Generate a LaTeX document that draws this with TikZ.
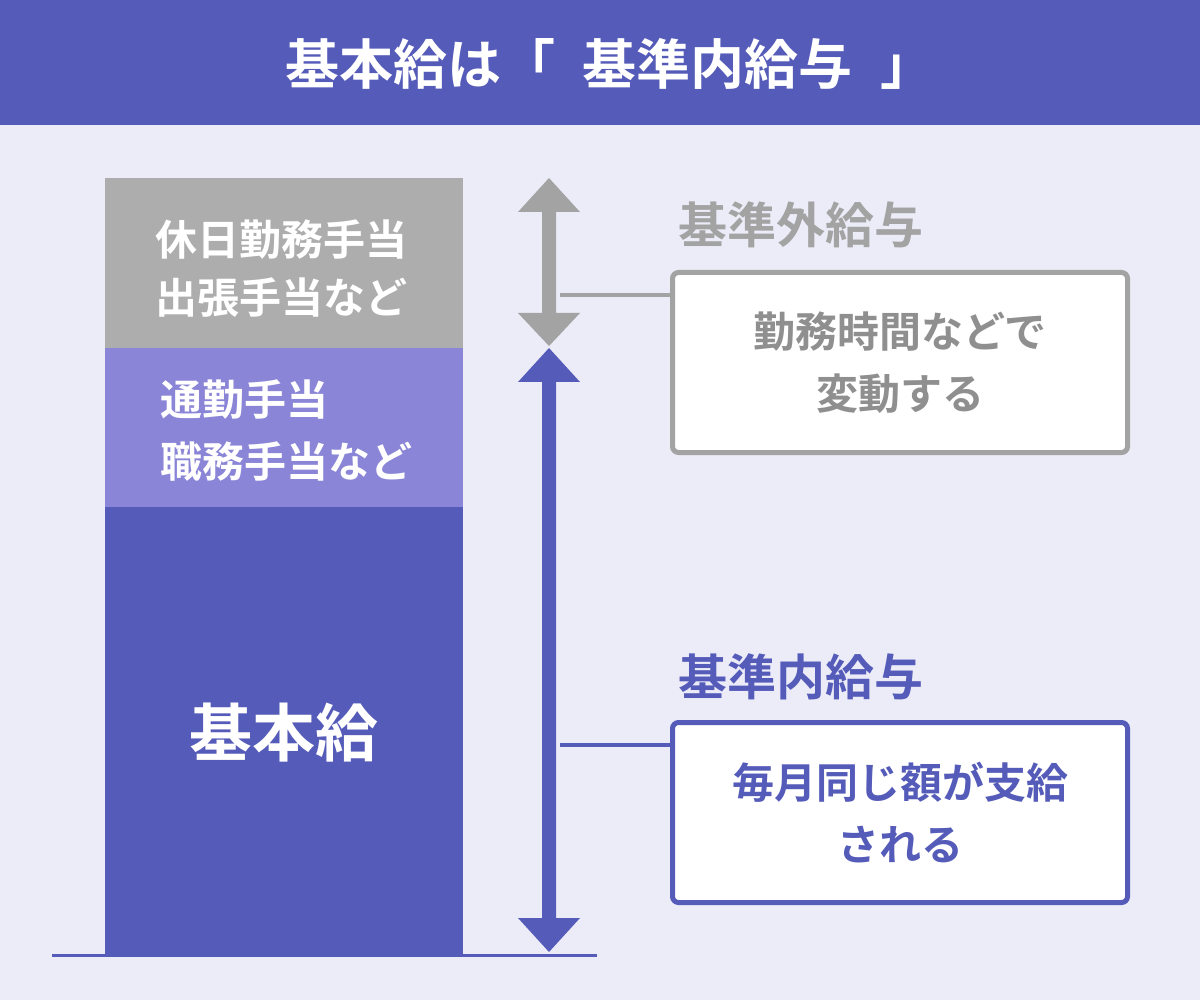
\documentclass[tikz,border=0pt]{standalone}
\usepackage{fontspec}
\setmainfont{Noto Sans CJK JP}[BoldFont={Noto Sans CJK JP Bold}]
\definecolor{hdr}{HTML}{555BB8}
\definecolor{bg}{HTML}{ECECF8}
\definecolor{gr}{HTML}{ADADAD}
\definecolor{lp}{HTML}{8A85D6}
\definecolor{gtxt}{HTML}{8F8F8F}
\definecolor{gline}{HTML}{A3A3A3}
\tikzset{
  lbl/.style={font=\bfseries\fontsize{42}{46}\selectfont, inner sep=0pt},
  head/.style={font=\bfseries\fontsize{49}{52}\selectfont, anchor=west, inner sep=0pt},
  box/.style={draw, line width=5pt, rounded corners=6pt, fill=white, inner sep=0pt},
}
\begin{document}
\begin{tikzpicture}[x=1pt,y=-1pt]
\useasboundingbox (0,0) rectangle (1200,1000);
\fill[bg] (0,0) rectangle (1200,1000);
\fill[hdr] (0,0) rectangle (1200,125);
\node[text=white, font=\bfseries\fontsize{54}{58}\selectfont] (title) at (610,64) {基本給は「\hspace{28pt}基準内給与\hspace{28pt}」};
% column
\fill[gr] (105,178) rectangle (463,348);
\fill[lp] (105,348) rectangle (463,507);
\fill[hdr] (105,507) rectangle (463,955);
\draw[hdr, line width=3pt] (52,955) -- (597,955);
\node[lbl, text=white, anchor=west] (t1) at (155,240) {休日勤務手当};
\node[lbl, text=white, anchor=west] (t2) at (155,298) {出張手当など};
\node[lbl, text=white, anchor=west] (t3) at (160,400) {通勤手当};
\node[lbl, text=white, anchor=west] (t4) at (160,462) {職務手当など};
\node[text=white, font=\bfseries\fontsize{63}{66}\selectfont] (kk) at (284,733) {基本給};
% arrows
\fill[gline] (549,178) -- (580,212) -- (556,212) -- (556,313) -- (580,313) -- (549,346) -- (518,313) -- (542,313) -- (542,212) -- (518,212) -- cycle;
\fill[hdr] (549,348) -- (580,382) -- (556,382) -- (556,918) -- (580,918) -- (549,952) -- (518,918) -- (542,918) -- (542,382) -- (518,382) -- cycle;
% boxes
\node[head, text=gline] (gl) at (678,225) {基準外給与};
\node[box, draw=gline, minimum width=455pt, minimum height=180pt, anchor=north west] (gb) at (670,270) {};
\node[lbl, text=gtxt, align=center] at (gb.center) {勤務時間などで\\[16pt]変動する};
\node[head, text=hdr] (bl) at (678,677) {基準内給与};
\node[box, draw=hdr, minimum width=455pt, minimum height=180pt, anchor=north west] (bb) at (670,720) {};
\node[lbl, text=hdr, align=center] at (bb.center) {毎月同じ額が支給\\[16pt]される};
\coordinate (ga) at (560,295);
\coordinate (ba) at (560,745);
\draw[gline, line width=3.5pt] (ga) -- (ga -| gb.west);
\draw[hdr, line width=3.5pt] (ba) -- (ba -| bb.west);
\end{tikzpicture}
\end{document}
